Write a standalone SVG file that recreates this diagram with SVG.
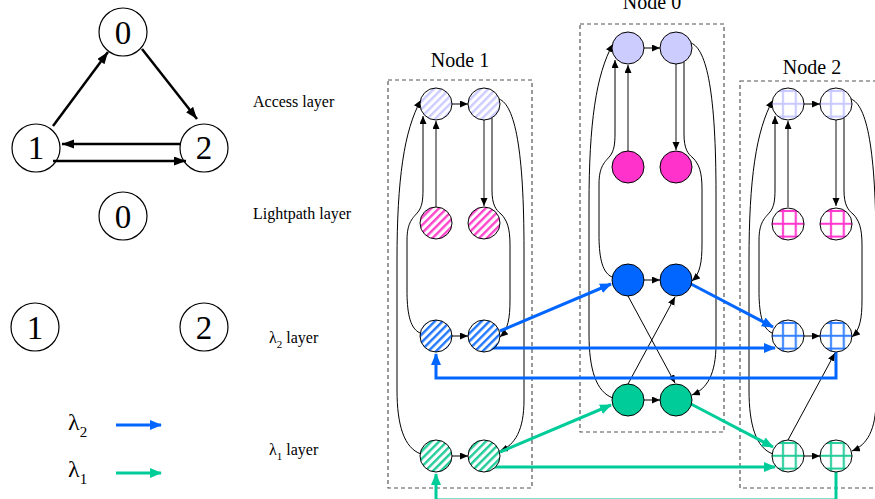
<svg xmlns="http://www.w3.org/2000/svg" xmlns:xlink="http://www.w3.org/1999/xlink" width="875" height="499" viewBox="0 0 875 499" font-family="'Liberation Serif', 'DejaVu Serif', serif">
<style>
text{font-family:'Liberation Serif','DejaVu Serif',serif;fill:#000}
.nd{stroke:#000;stroke-width:1}
.gn{fill:#fff;stroke:#000;stroke-width:1.2}
.box{fill:none;stroke:#555;stroke-width:1.2;stroke-dasharray:4 3}
.lbl{font-size:16px}
.big{font-size:33px;text-anchor:middle}
.ttl{font-size:20px;text-anchor:middle}
.thin{fill:none;stroke:#000;stroke-width:1}
.gray{fill:none;stroke:#888;stroke-width:2}
.blue{fill:none;stroke:#0066ff;stroke-width:3}
.green{fill:none;stroke:#00cc99;stroke-width:3}
.bk{fill:none;stroke:#000;stroke-width:2.5}
</style>
<defs>
<marker id="ak" markerUnits="userSpaceOnUse" markerWidth="9" markerHeight="8" refX="8" refY="3.5" orient="auto"><path d="M0,0 L8,3.5 L0,7 z" fill="#000"/></marker>
<marker id="abig" markerUnits="userSpaceOnUse" markerWidth="13" markerHeight="10" refX="12" refY="4.5" orient="auto"><path d="M0,0 L12,4.5 L0,9 z" fill="#000"/></marker>
<marker id="ab" markerUnits="userSpaceOnUse" markerWidth="13" markerHeight="11" refX="11" refY="5" orient="auto"><path d="M0,0 L12,5 L0,10 z" fill="#0066ff"/></marker>
<marker id="ag" markerUnits="userSpaceOnUse" markerWidth="13" markerHeight="11" refX="11" refY="5" orient="auto"><path d="M0,0 L12,5 L0,10 z" fill="#00cc99"/></marker>
<pattern id="hA" width="5.5" height="5.5" patternUnits="userSpaceOnUse" patternTransform="rotate(45)"><rect width="5.5" height="5.5" fill="#fff"/><rect width="2.4" height="5.5" fill="#ccccff"/></pattern>
<pattern id="hP" width="5.5" height="5.5" patternUnits="userSpaceOnUse" patternTransform="rotate(45)"><rect width="5.5" height="5.5" fill="#fff"/><rect width="2.4" height="5.5" fill="#ff44cc"/></pattern>
<pattern id="hB" width="5.5" height="5.5" patternUnits="userSpaceOnUse" patternTransform="rotate(45)"><rect width="5.5" height="5.5" fill="#fff"/><rect width="2.4" height="5.5" fill="#2277ff"/></pattern>
<pattern id="hG" width="5.5" height="5.5" patternUnits="userSpaceOnUse" patternTransform="rotate(45)"><rect width="5.5" height="5.5" fill="#fff"/><rect width="2.4" height="5.5" fill="#22cc99"/></pattern>
<pattern id="gA" width="0.4" height="0.4" patternUnits="objectBoundingBox"><rect width="13" height="13" fill="#fff"/><rect x="10" width="2" height="13" fill="#c8c8ff"/><rect y="2" width="13" height="2" fill="#c8c8ff"/></pattern>
<pattern id="gP" width="0.4" height="0.4" patternUnits="objectBoundingBox"><rect width="13" height="13" fill="#fff"/><rect x="10" width="2" height="13" fill="#ff33cc"/><rect y="2" width="13" height="2" fill="#ff33cc"/></pattern>
<pattern id="gB" width="0.4" height="0.4" patternUnits="objectBoundingBox"><rect width="13" height="13" fill="#fff"/><rect x="10" width="2" height="13" fill="#3380ff"/><rect y="2" width="13" height="2" fill="#3380ff"/></pattern>
<pattern id="gG" width="0.4" height="0.4" patternUnits="objectBoundingBox"><rect width="13" height="13" fill="#fff"/><rect x="10" width="2" height="13" fill="#22cc99"/><rect y="2" width="13" height="2" fill="#22cc99"/></pattern>
<g id="intra">
<path class="thin" d="M452,104 H468" marker-end="url(#ak)"/>
<path class="thin" d="M452,336 H468" marker-end="url(#ak)"/>
<path class="thin" d="M452,456 H468" marker-end="url(#ak)"/>
<path class="gray" d="M436,207 V121" marker-end="url(#ak)"/>
<path class="gray" d="M484,120 V206" marker-end="url(#ak)"/>
<path class="thin" d="M421,454 C404,448 397,425 397,390 L397,260 C397,180 404,130 421,100" marker-end="url(#ak)"/>
<path class="thin" d="M420,333 C409,328 407,310 407,290 L407,240 C407,222 413,218 418,212 C422,207 423,200 423,190 L423,116" marker-end="url(#ak)"/>
<path class="thin" d="M492,118 L492,190 C492,205 496,210 501,214 C507,220 510,228 510,245 L510,300 C510,318 508,330 500,337" marker-end="url(#ak)"/>
<path class="thin" d="M499,99 C515,105 524,150 524,250 L524,400 C524,430 515,445 500,451" marker-end="url(#ak)"/>
</g>
</defs>

<!-- left graph -->
<g id="graph-top">
<g id="g0"><circle class="gn" cx="123" cy="32" r="24"/><text class="big" x="123" y="44">0</text></g>
<g id="g1"><circle class="gn" cx="36" cy="148" r="24"/><text class="big" x="36" y="159">1</text></g>
<g id="g2"><circle class="gn" cx="204" cy="148" r="24"/><text class="big" x="204" y="159">2</text></g>
<g id="graph-edges">
<path class="bk" d="M53,126 L108,52" marker-end="url(#abig)"/>
<path class="bk" d="M142,49 L197,119" marker-end="url(#abig)"/>
<path class="bk" d="M180,144 L62,144" marker-end="url(#abig)"/>
<path class="bk" d="M53,161 L186,161" marker-end="url(#abig)"/>
</g>
</g>
<g id="graph-bottom">
<g id="h0"><circle class="gn" cx="123" cy="216" r="24"/><text class="big" x="123" y="228">0</text></g>
<g id="h1"><circle class="gn" cx="35" cy="327" r="24"/><text class="big" x="35" y="339">1</text></g>
<g id="h2"><circle class="gn" cx="204" cy="327" r="24"/><text class="big" x="204" y="339">2</text></g>
</g>

<!-- legend -->
<g id="legend">
<text x="68" y="430" font-size="24">λ<tspan dy="7" font-size="15">2</tspan></text>
<text x="68" y="477" font-size="24">λ<tspan dy="7" font-size="15">1</tspan></text>
<path class="blue" d="M116,425 H161" marker-end="url(#ab)"/>
<path class="green" d="M116,473 H161" marker-end="url(#ag)"/>
</g>

<!-- layer labels -->
<text class="lbl" x="253" y="107">Access layer</text>
<text class="lbl" x="253" y="219">Lightpath layer</text>
<text class="lbl" x="269" y="343">λ<tspan dy="5" font-size="11">2</tspan><tspan dy="-5"> layer</tspan></text>
<text class="lbl" x="269" y="455">λ<tspan dy="5" font-size="11">1</tspan><tspan dy="-5"> layer</tspan></text>

<!-- boxes -->
<rect class="box" x="388" y="80" width="144" height="408"/>
<rect class="box" x="580" y="24" width="144" height="408"/>
<rect class="box" x="740" y="81" width="150" height="407"/>
<text class="ttl" x="460" y="67">Node 1</text>
<text class="ttl" x="652" y="9">Node 0</text>
<text class="ttl" x="812" y="74">Node 2</text>

<!-- connectors -->
<g id="connectors">
<use xlink:href="#intra" href="#intra"/>
<use xlink:href="#intra" href="#intra" transform="translate(192,-56)"/>
<use xlink:href="#intra" href="#intra" transform="translate(352,0)"/>
<path class="thin" d="M628,296 L675,383" marker-end="url(#ak)"/>
<path class="thin" d="M628,384 L675,297" marker-end="url(#ak)"/>
<path class="thin" d="M788,440 L835,353" marker-end="url(#ak)"/>
<path class="blue" d="M500,331 L611,284" marker-end="url(#ab)"/>
<path class="blue" d="M493,348 H775" marker-end="url(#ab)"/>
<path class="blue" d="M691,284 L773,327" marker-end="url(#ab)"/>
<path class="blue" d="M836,352 V378 H436 V354" marker-end="url(#ab)"/>
<path class="green" d="M500,452 L611,405" marker-end="url(#ag)"/>
<path class="green" d="M493,467 H775" marker-end="url(#ag)"/>
<path class="green" d="M691,404 L773,447" marker-end="url(#ag)"/>
<path class="green" d="M836,472 V500 H436 V474" marker-end="url(#ag)"/>
</g>

<!-- nodes -->
<g id="node1">
<g id="n1-a-l"><circle class="nd" cx="436" cy="104" r="16" fill="url(#hA)"/></g>
<g id="n1-a-r"><circle class="nd" cx="484" cy="104" r="16" fill="url(#hA)"/></g>
<g id="n1-p-l"><circle class="nd" cx="436" cy="223" r="16" fill="url(#hP)"/></g>
<g id="n1-p-r"><circle class="nd" cx="484" cy="223" r="16" fill="url(#hP)"/></g>
<g id="n1-w2-l"><circle class="nd" cx="436" cy="336" r="16" fill="url(#hB)"/></g>
<g id="n1-w2-r"><circle class="nd" cx="484" cy="336" r="16" fill="url(#hB)"/></g>
<g id="n1-w1-l"><circle class="nd" cx="436" cy="456" r="16" fill="url(#hG)"/></g>
<g id="n1-w1-r"><circle class="nd" cx="484" cy="456" r="16" fill="url(#hG)"/></g>
</g>
<g id="node0">
<g id="n0-a-l"><circle class="nd" cx="628" cy="48" r="16" fill="#ccccff"/></g>
<g id="n0-a-r"><circle class="nd" cx="676" cy="48" r="16" fill="#ccccff"/></g>
<g id="n0-p-l"><circle class="nd" cx="628" cy="167" r="16" fill="#ff33cc"/></g>
<g id="n0-p-r"><circle class="nd" cx="676" cy="167" r="16" fill="#ff33cc"/></g>
<g id="n0-w2-l"><circle class="nd" cx="628" cy="280" r="16" fill="#0066ff"/></g>
<g id="n0-w2-r"><circle class="nd" cx="676" cy="280" r="16" fill="#0066ff"/></g>
<g id="n0-w1-l"><circle class="nd" cx="628" cy="400" r="16" fill="#00cc99"/></g>
<g id="n0-w1-r"><circle class="nd" cx="676" cy="400" r="16" fill="#00cc99"/></g>
</g>
<g id="node2">
<g id="n2-a-l"><circle class="nd" cx="788" cy="104" r="16" fill="url(#gA)"/></g>
<g id="n2-a-r"><circle class="nd" cx="836" cy="104" r="16" fill="url(#gA)"/></g>
<g id="n2-p-l"><circle class="nd" cx="788" cy="224" r="16" fill="url(#gP)"/></g>
<g id="n2-p-r"><circle class="nd" cx="836" cy="224" r="16" fill="url(#gP)"/></g>
<g id="n2-w2-l"><circle class="nd" cx="788" cy="336" r="16" fill="url(#gB)"/></g>
<g id="n2-w2-r"><circle class="nd" cx="836" cy="336" r="16" fill="url(#gB)"/></g>
<g id="n2-w1-l"><circle class="nd" cx="788" cy="456" r="16" fill="url(#gG)"/></g>
<g id="n2-w1-r"><circle class="nd" cx="836" cy="456" r="16" fill="url(#gG)"/></g>
</g>
</svg>
